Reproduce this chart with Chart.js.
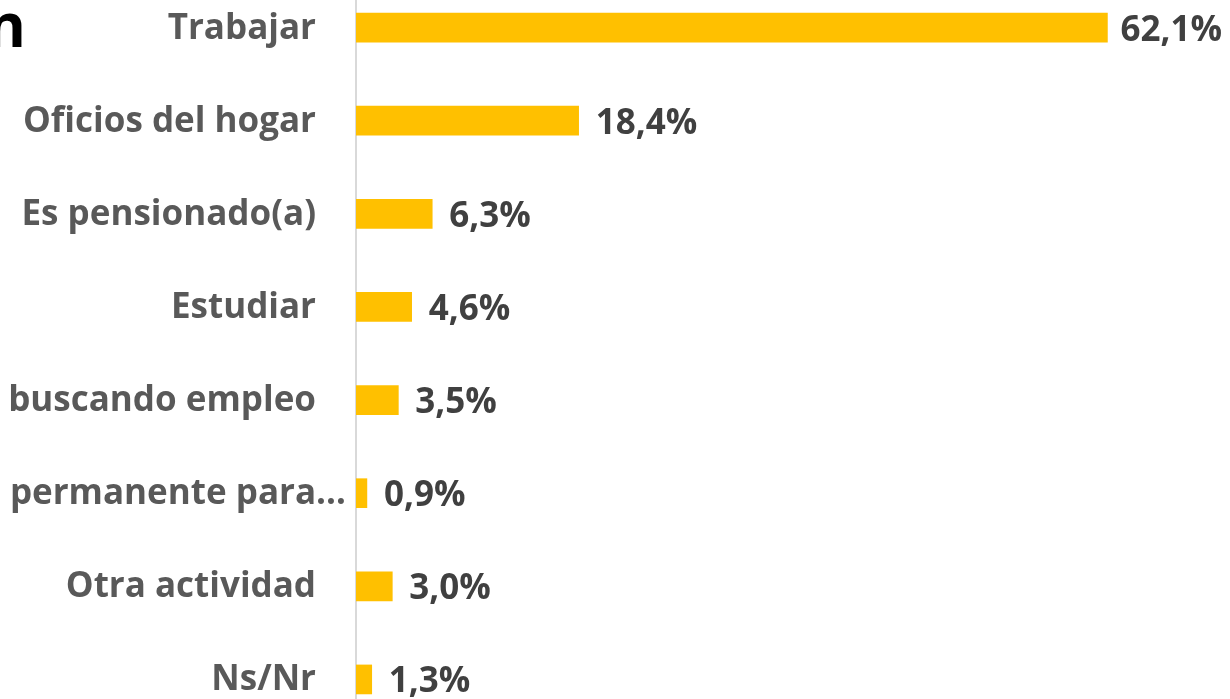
<!DOCTYPE html>
<html>
<head>
<meta charset="utf-8">
<script src="https://cdn.jsdelivr.net/npm/chart.js@4"></script>
<style>
  html, body { margin: 0; padding: 0; background: #fff; overflow: hidden; }
  body { width: 1230px; height: 699px; position: relative; }
  .chart-box { position: absolute; left: 0; top: -19px; width: 1230px; height: 745px; }
  .title-cut { position: absolute; right: 1204px; top: -17px; font: bold 60px "Open Sans", sans-serif; color: #000; white-space: nowrap; }
</style>
</head>
<body>
<div class="title-cut">Ocupación</div>
<div class="chart-box"><canvas id="myChart"></canvas></div>
<script>
const categories = [
  "Trabajar",
  "Oficios del hogar",
  "Es pensionado(a)",
  "Estudiar",
  "Está buscando empleo",
  "Incapacitado permanente para…",
  "Otra actividad",
  "Ns/Nr"
];
const percentages = [62.1, 18.4, 6.3, 4.6, 3.5, 0.9, 3.0, 1.3];

// write the value with a comma decimal, like the original
const fmt = v => v.toFixed(1).replace('.', ',') + '%';
const labelFont = 'bold 35px "Open Sans", sans-serif';

// category names drawn on the y scale positions (truncated one sits further right, like Excel does)
const categoryLabels = {
  id: 'categoryLabels',
  afterDraw(chart) {
    const ctx = chart.ctx;
    const yScale = chart.scales.y;
    ctx.save();
    ctx.font = labelFont;
    ctx.fillStyle = '#595959';
    ctx.textBaseline = 'middle';
    ctx.textAlign = 'right';
    categories.forEach((name, i) => {
      const right = name.endsWith('…') ? yScale.right - 10 : yScale.right - 40;
      ctx.fillText(name, right, yScale.getPixelForTick(i) + 1);
    });
    ctx.restore();
  }
};

const valueLabels = {
  id: 'valueLabels',
  afterDatasetsDraw(chart) {
    const ctx = chart.ctx;
    const meta = chart.getDatasetMeta(0);
    ctx.save();
    ctx.font = labelFont;
    ctx.fillStyle = '#404040';
    ctx.textBaseline = 'middle';
    ctx.textAlign = 'left';
    meta.data.forEach((bar, i) => {
      const txt = fmt(percentages[i]);
      // keep the label inside the canvas, the long bar label gets pushed in
      const x = Math.min(bar.x + 17, chart.width - 8 - ctx.measureText(txt).width);
      ctx.fillText(txt, x, bar.y + 3);
    });
    ctx.restore();
  }
};

new Chart(document.getElementById('myChart'), {
  type: 'bar',
  data: {
    labels: categories,
    datasets: [{
      data: percentages,
      backgroundColor: '#FFC000',
      borderWidth: 0,
      barThickness: 29
    }]
  },
  options: {
    indexAxis: 'y',
    responsive: true,
    maintainAspectRatio: false,
    animation: false,
    layout: { padding: { left: 0, right: 27, top: 0, bottom: 0 } },
    plugins: {
      legend: { display: false },
      tooltip: { enabled: false },
      title: { display: false }
    },
    scales: {
      x: {
        display: false,
        min: 0,
        max: 70
      },
      y: {
        afterFit(scale) { scale.width = 356; },
        grid: { display: false, drawTicks: false },
        border: { display: true, color: '#d9d9d9', width: 2 },
        ticks: { display: false }
      }
    }
  },
  plugins: [valueLabels, categoryLabels]
});
</script>
</body>
</html>
